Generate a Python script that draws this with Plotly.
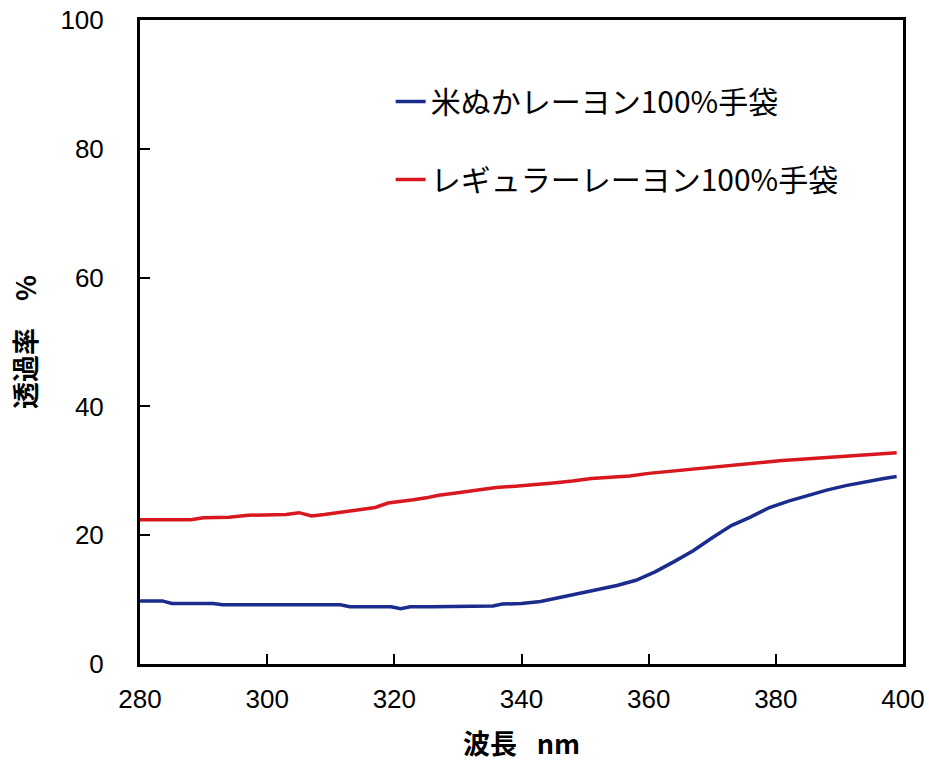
import plotly.graph_objects as go

# Wavelength (nm) and transmittance (%) for each glove
wl_rice = [280, 283.5, 285, 288, 291.5, 293, 300, 305, 311.5, 313, 316, 319.5, 321, 322.5,
           326, 330, 335.5, 337, 340, 343, 346, 349, 352, 355, 358, 361, 364, 367, 370,
           373, 376, 379, 382, 385, 388, 391, 394, 397, 399]
t_rice = [9.8, 9.8, 9.4, 9.4, 9.4, 9.2, 9.2, 9.2, 9.2, 8.9, 8.9, 8.9, 8.6, 8.9,
          8.9, 8.9, 9.0, 9.3, 9.4, 9.7, 10.3, 10.9, 11.6, 12.2, 13.0, 14.3, 15.9, 17.6, 19.6,
          21.5, 22.8, 24.3, 25.3, 26.2, 27.0, 27.7, 28.3, 28.8, 29.1]

wl_reg = [280, 284, 288, 290, 294, 297, 301, 303, 305, 307, 309, 311, 313, 315, 317, 319,
          321, 323, 325, 327, 330, 333, 336, 339, 342, 345, 348, 351, 354, 357, 360, 363,
          366, 369, 372, 375, 378, 381, 384, 387, 390, 393, 396, 399]
t_reg = [22.4, 22.4, 22.4, 22.7, 22.8, 23.1, 23.1, 23.2, 23.5, 23.0, 23.2, 23.5, 23.8, 24.1,
         24.3, 25.0, 25.2, 25.5, 25.8, 26.2, 26.6, 27.0, 27.4, 27.6, 27.8, 28.1, 28.4, 28.8,
         29.0, 29.2, 29.6, 29.9, 30.1, 30.5, 30.8, 31.0, 31.3, 31.6, 31.8, 32.0, 32.2, 32.4,
         32.6, 32.8]

name_rice = "米ぬかレーヨン100%手袋"
name_reg = "レギュラーレーヨン100%手袋"
x_ticks = [280, 300, 320, 340, 360, 380, 400]
y_ticks = [0, 20, 40, 60, 80, 100]

fig = go.Figure()
fig.add_trace(go.Scatter(x=wl_rice, y=t_rice, mode="lines", name=name_rice,
                         legendgroup="a", line=dict(color="#1a2c8c", width=3.5)))
fig.add_trace(go.Scatter(x=wl_reg, y=t_reg, mode="lines", name=name_reg,
                         legendgroup="b", line=dict(color="#d8171f", width=3.5)))

tickfont = dict(family="Liberation Sans, Arial, sans-serif", size=26, color="black")
titlefont = dict(family="Noto Sans CJK JP", size=27, color="black", weight="bold")

fig.update_layout(
    width=929, height=762,
    margin=dict(l=140, r=26, t=20, b=98, autoexpand=False),
    paper_bgcolor="white", plot_bgcolor="white",
    showlegend=True,
    legend=dict(x=0.3285, y=0.914, xanchor="left", yanchor="top",
                bgcolor="rgba(0,0,0,0)", tracegroupgap=36,
                font=dict(family="Noto Sans CJK JP", size=30, color="black")),
    xaxis=dict(range=[280, 400], tickvals=x_ticks, ticktext=[str(v) for v in x_ticks],
               ticks="inside", ticklen=10, tickwidth=2, tickcolor="black",
               showline=True, linecolor="black", linewidth=3, mirror=True,
               showgrid=False, zeroline=False, tickfont=tickfont, automargin=False,
               ticklabelstandoff=10,
               title=dict(text="波長\u2002 nm", font=titlefont, standoff=26)),
    yaxis=dict(range=[0, 100], tickvals=y_ticks, ticktext=[str(v) for v in y_ticks],
               ticks="inside", ticklen=10, tickwidth=2, tickcolor="black",
               showline=True, linecolor="black", linewidth=3, mirror=True,
               showgrid=False, zeroline=False, tickfont=tickfont, automargin=False,
               ticklabelstandoff=28,
               title=dict(text="透過率　%", font=titlefont, standoff=16)),
)

fig.write_html("out.html", config={"displayModeBar": False},
               post_script="document.body.style.margin='0';")
